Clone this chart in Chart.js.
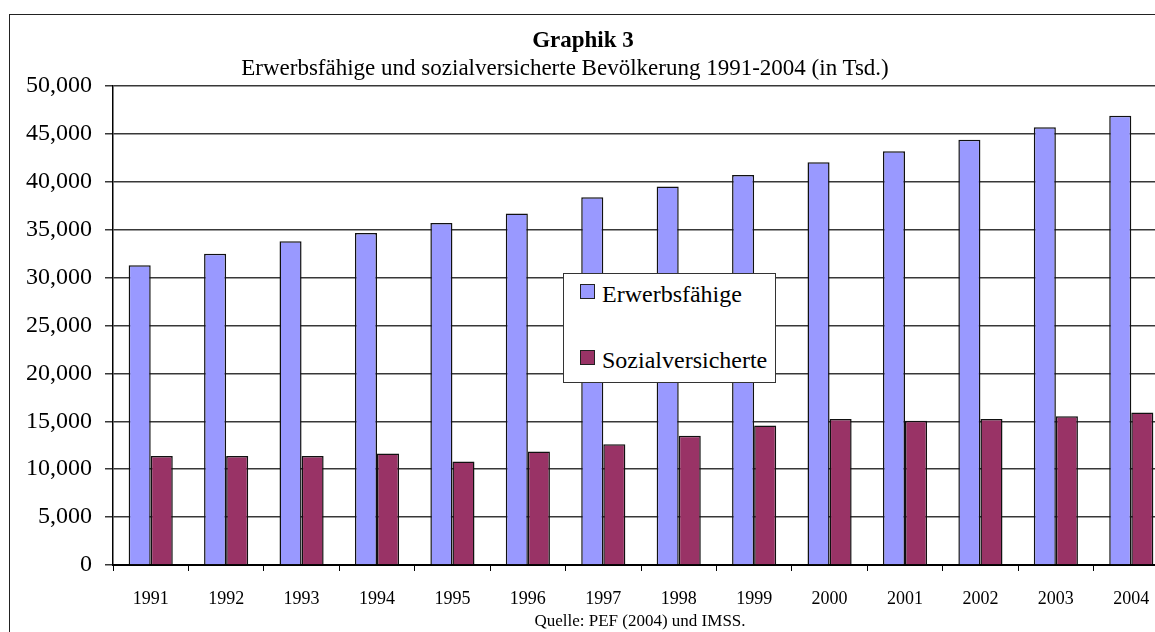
<!DOCTYPE html>
<html lang="de">
<head>
<meta charset="UTF-8">
<title>Graphik 3</title>
<script src="https://cdn.jsdelivr.net/npm/chart.js@4"></script>
<style>
    html, body {
        margin: 0;
        padding: 0;
        background: #fff;
        overflow: hidden;
        font-family: "Liberation Serif", "Times New Roman", serif;
        color: #000;
    }
    /* outer frame of the picture */
    #frame {
        position: absolute;
        left: 9px;
        top: 14px;
        width: 1300px;
        height: 700px;
        border-left: 1px solid #222;
        border-top: 1px solid #222;
    }
    #wrap {
        position: absolute;
        left: 0;
        top: 0;
        width: 1175px;
        height: 632px;
    }
    .txt {
        position: absolute;
        white-space: nowrap;
        transform: translateX(-50%);
        line-height: 1;
    }
    #title { left: 583px; top: 28px; font-size: 23px; font-weight: bold; }
    #subtitle { left: 565px; top: 56px; font-size: 23px; }
    #source { left: 640px; top: 612px; font-size: 17px; }
    #legend {
        position: absolute;
        left: 563px;
        top: 273px;
        width: 211px;
        height: 108px;
        background: #fff;
        border: 1px solid #333;
    }
    .item {
        position: absolute;
        left: 16px;
        font-size: 24px;
        line-height: 1;
        white-space: nowrap;
    }
    .item span.box {
        position: absolute;
        left: 0;
        top: 0;
        width: 13px;
        height: 13px;
        border: 1px solid #222;
    }
    .item span.lbl { position: absolute; left: 22px; top: -2px; }
</style>
</head>
<body>
<div id="frame"></div>
<div id="wrap"><canvas id="chart"></canvas></div>
<div class="txt" id="title">Graphik 3</div>
<div class="txt" id="subtitle">Erwerbsfähige und sozialversicherte Bevölkerung 1991-2004 (in Tsd.)</div>
<div class="txt" id="source">Quelle: PEF (2004) und IMSS.</div>
<div id="legend"></div>

<script>
    // values (in thousands)
    const years = ['1991', '1992', '1993', '1994', '1995', '1996', '1997',
                   '1998', '1999', '2000', '2001', '2002', '2003', '2004'];
    const erwerbsfaehige = [31300, 32500, 33800, 34650, 35700, 36700, 38400,
                            39500, 40700, 42050, 43200, 44400, 45700, 46900];
    const sozialversicherte = [11370, 11370, 11370, 11640, 10800, 11850, 12600,
                               13500, 14550, 15250, 15060, 15230, 15540, 15930];
    const seriesNames = ['Erwerbsfähige', 'Sozialversicherte'];
    const seriesColors = ['#9999ff', '#993366'];

    const serif = '"Liberation Serif", "Times New Roman", serif';

    const chart = new Chart(document.getElementById('chart'), {
        type: 'bar',
        data: {
            labels: years,
            datasets: [
                {
                    label: seriesNames[0],
                    data: erwerbsfaehige,
                    backgroundColor: seriesColors[0],
                    borderColor: '#111',
                    borderWidth: 1.5
                },
                {
                    label: seriesNames[1],
                    data: sozialversicherte,
                    backgroundColor: seriesColors[1],
                    borderColor: '#111',
                    borderWidth: 1.5
                }
            ]
        },
        options: {
            responsive: true,
            maintainAspectRatio: false,
            animation: false,
            categoryPercentage: 0.585,
            barPercentage: 1.0,
            layout: {
                padding: { top: 86, left: 0, right: 6, bottom: 0 }
            },
            plugins: {
                legend: { display: false },
                title: { display: false },
                tooltip: { enabled: false }
            },
            scales: {
                x: {
                    offset: true,
                    grid: {
                        offset: true,
                        drawOnChartArea: false,
                        tickLength: 6,
                        color: '#000'
                    },
                    border: { color: '#000', width: 2 },
                    ticks: {
                        font: { family: serif, size: 18 },
                        color: '#000',
                        padding: 17,
                        maxRotation: 0
                    },
                    afterFit: function (scale) { scale.height = 67; }
                },
                y: {
                    min: 0,
                    max: 50000,
                    grid: {
                        color: '#383838',
                        lineWidth: 1.5,
                        tickLength: 8
                    },
                    border: { color: '#000', width: 1.5 },
                    ticks: {
                        stepSize: 5000,
                        font: { family: serif, size: 24 },
                        color: '#000',
                        padding: 13,
                        callback: function (v) { return v.toLocaleString('en-US'); }
                    },
                    afterFit: function (scale) { scale.width = 113; }
                }
            }
        }
    });

    // legend box in the middle of the plot
    const legend = document.getElementById('legend');
    const itemTops = [10, 76];
    chart.data.datasets.forEach(function (ds, i) {
        const item = document.createElement('div');
        item.className = 'item';
        item.style.top = itemTops[i] + 'px';
        item.innerHTML = '<span class="box" style="background:' + ds.backgroundColor + '"></span>' +
                         '<span class="lbl">' + ds.label + '</span>';
        legend.appendChild(item);
    });
</script>
</body>
</html>
